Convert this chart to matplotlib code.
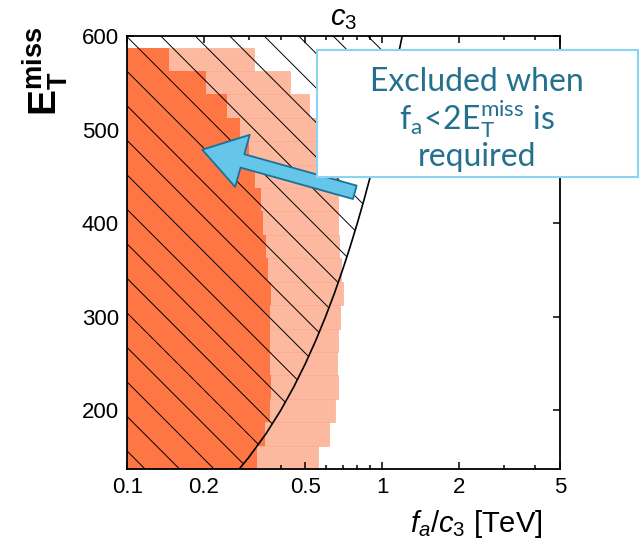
import numpy as np
import matplotlib
matplotlib.use("Agg")
import matplotlib.pyplot as plt
from matplotlib.patches import FancyArrowPatch, Rectangle

plt.rcParams['font.family'] = ['Liberation Sans', 'DejaVu Sans']
plt.rcParams['mathtext.fontset'] = 'custom'
plt.rcParams['mathtext.rm'] = 'Liberation Sans'
plt.rcParams['mathtext.it'] = 'Liberation Sans:italic'
plt.rcParams['mathtext.bf'] = 'Liberation Sans:bold'

# missing transverse energy bins (GeV), bin centres, width 25
e_bins = [150, 175, 200, 225, 250, 275, 300, 325, 350, 375,
          400, 425, 450, 475, 500, 525, 550, 575]
bin_width = 25

# excluded f_a/c3 (TeV) per bin
dark_fa = [0.322, 0.347, 0.363, 0.366, 0.363, 0.363, 0.363, 0.366, 0.356, 0.349,
           0.342, 0.335, 0.317, 0.300, 0.277, 0.246, 0.204, 0.146]
light_fa = [0.559, 0.619, 0.654, 0.669, 0.664, 0.674, 0.684, 0.700, 0.688, 0.677,
            0.669, 0.669, 0.669, 0.620, 0.570, 0.517, 0.435, 0.314]

# f_a = 2 E_T^miss boundary
curve_e = [137.5, 150, 175, 200, 225, 250, 275, 300, 325, 350, 375, 400,
           425, 450, 475, 500, 525, 550, 575, 600]
curve_fa = [0.275, 0.30, 0.35, 0.40, 0.45, 0.50, 0.55, 0.60, 0.65, 0.70, 0.75, 0.80,
            0.85, 0.90, 0.95, 1.00, 1.05, 1.10, 1.15, 1.20]

xticks = [0.1, 0.2, 0.5, 1, 2, 5]
xticklabels = ['0.1', '0.2', '0.5', '1', '2', '5']
yticks = [200, 300, 400, 500, 600]

fig = plt.figure(figsize=(6.44, 5.42), dpi=100)
ax = fig.add_axes([0.1977, 0.1347, 0.6719, 0.799])

left = 0.05
ax.barh(e_bins, np.array(light_fa) - left, height=bin_width, left=left,
        color='#fcb9a0', edgecolor='#fba688', linewidth=0.4, zorder=1)
ax.barh(e_bins, np.array(dark_fa) - left, height=bin_width, left=left,
        color='#fe7643', edgecolor='none', zorder=2)

# hatched region left of the curve
region = ax.fill_betweenx(curve_e, left, curve_fa, facecolor='none',
                          edgecolor='none', zorder=3)
clip_path = region.get_paths()[0]
for xb in 0.041 + 0.0797 * np.arange(0, 24):
    ln, = ax.plot([xb, xb - 1], [0, 1], transform=ax.transAxes,
                  color='black', lw=0.7, zorder=3)
    ln.set_clip_path(clip_path, region.get_transform())

ax.plot(curve_fa, curve_e, color='black', lw=1.2, zorder=4)

ax.set_xscale('log')
ax.set_xlim(0.1, 5)
ax.set_ylim(137.5, 600)
ax.set_xticks(xticks)
ax.set_xticklabels(xticklabels)
ax.set_yticks(yticks)
ax.tick_params(which='both', direction='in', top=True, right=True,
               labelsize=16, width=1.1)
ax.tick_params(which='major', length=5, pad=6)
ax.tick_params(which='minor', length=3)
ax.tick_params(axis='y', which='minor', left=False, right=False)
for s in ax.spines.values():
    s.set_linewidth(1.3)

ax.set_title('$c_3$', fontsize=21, pad=8)
fig.text(543 / 644, 1 - 532 / 542, '$f_a/c_3$ [TeV]', fontsize=21,
         ha='right', va='baseline')
fig.text(45 / 644, 1 - 71 / 542, r'$\mathbf{E}_{\mathbf{T}}^{\mathbf{miss}}$',
         fontsize=28, rotation=90, ha='center', va='center')

# arrow pointing into the excluded area
arrow = FancyArrowPatch((0.782, 433), (0.197, 478.5),
                        arrowstyle='simple,head_length=30,head_width=39,tail_width=10',
                        mutation_scale=1, shrinkA=0, shrinkB=0,
                        facecolor='#66c6ea', edgecolor='#1b7196', lw=1.3,
                        zorder=6, clip_on=False)
ax.add_patch(arrow)

box = Rectangle((316.7 / 644, 1 - 177 / 542), 321.3 / 644, 127 / 542,
                transform=fig.transFigure, facecolor='white',
                edgecolor='#8ad4f2', lw=1.5, zorder=5)
fig.add_artist(box)
txt_kw = dict(fontsize=23, color='#23718f', ha='center', va='baseline',
              family=['Lato', 'DejaVu Sans'], zorder=6)
fig.text(477 / 644, 1 - 91 / 542, 'Excluded when', **txt_kw)
fig.text(477 / 644, 1 - 129 / 542,
         r'$\mathregular{f_a\!<\!2E_T^{miss}}$ is', **txt_kw)
fig.text(477 / 644, 1 - 166 / 542, 'required', **txt_kw)

fig.savefig('out.png', dpi=100)
